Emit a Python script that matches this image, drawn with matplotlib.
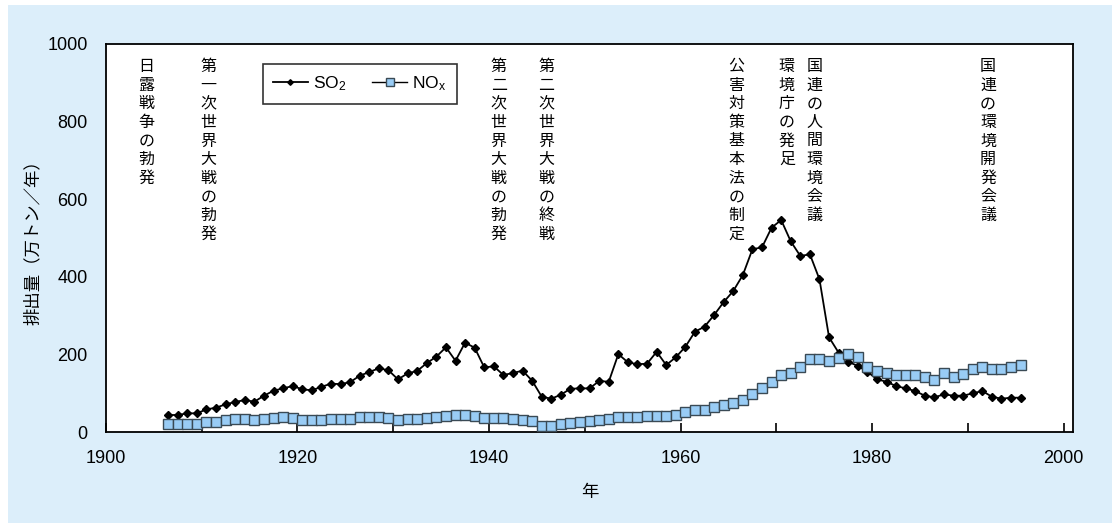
import numpy as np
import matplotlib
matplotlib.use("Agg")
import matplotlib.pyplot as plt
from matplotlib.patches import Rectangle
from matplotlib.ticker import MultipleLocator, FuncFormatter

plt.rcParams['font.family'] = ['Liberation Sans', 'Noto Sans CJK JP', 'DejaVu Sans']
plt.rcParams['mathtext.fontset'] = 'custom'
plt.rcParams['mathtext.rm'] = 'Liberation Sans'
plt.rcParams['mathtext.it'] = 'Liberation Sans'

# ---- data ----
years = np.arange(1906, 1996)
so2 = [44.5, 44.5, 48.8, 48.8, 59, 63.3, 72, 78, 83, 78.7,
       94, 107, 113, 119, 110.6, 108, 117, 125, 124, 129,
       145.6, 155, 164.6, 159.5, 136, 151.7, 157.7, 178, 194.5, 218.6,
       184, 230.5, 217.6, 167, 169.7, 147.4, 152.5, 158.5, 132.7, 91.6,
       86.4, 96.7, 112, 113, 113, 132, 130, 201, 180, 175,
       176.5, 207, 173, 193, 220, 258.8, 271.6, 301.7, 335, 363.4,
       404.6, 470.7, 475.8, 526.2, 546, 491.2, 453.5, 457.8, 393.5, 244.3,
       204.8, 181.6, 170.5, 156, 136.3, 130, 119, 113, 106, 94.2,
       90, 97.6, 94.2, 94.2, 100.3, 106.2, 91.6, 86.4, 89, 89]
nox = [21, 20.5, 20.5, 21, 26.5, 26.5, 31.6, 33.3, 33.3, 31.6,
       33.3, 36.8, 39.4, 37.6, 31.6, 30.8, 30.8, 34.2, 35.1, 34.2,
       38.5, 39.4, 38.5, 37.6, 32.5, 33.3, 33.3, 38, 40.2, 42.8,
       44.5, 44.5, 42.8, 37.6, 36.8, 35.9, 34.2, 31.6, 28.2, 16.2,
       16.2, 21.3, 23, 26.5, 28.2, 31.6, 35, 39.4, 39.4, 39.4,
       42.8, 42.8, 42.8, 44.5, 51.4, 57.4, 57.4, 64.3, 70.2, 76.1,
       83, 98.5, 113, 130, 147.4, 153.3, 168.7, 187.8, 188.5, 183.4,
       190.3, 202.2, 192.9, 168.7, 158.5, 151.7, 146.6, 148.1, 146.6, 142.2,
       133.7, 151.7, 143, 150, 162.8, 168, 162, 162, 167, 172.3]

events = ["日露戦争の勃発", "第一次世界大戦の勃発", "第二次世界大戦の勃発",
          "第二次世界大戦の終戦", "公害対策基本法の制定", "環境庁の発足",
          "国連の人間環境会議", "国連の環境開発会議"]
event_x = [1904.2, 1910.7, 1941.0, 1946.0, 1965.8, 1971.1, 1974.0, 1992.1]

y_ticks = [0, 200, 400, 600, 800, 1000]

# ---- figure ----
W, H = 1112, 523
fig = plt.figure(figsize=(W / 100, H / 100), dpi=100)
fig.patch.set_facecolor('white')
fig.patches.append(Rectangle((8 / W, 0), 1 - 8 / W, 1 - 5 / H, transform=fig.transFigure,
                             facecolor='#DCEEFA', edgecolor='none', zorder=-10))

ax = fig.add_axes([105.9 / W, 1 - 432.3 / H, 967.4 / W, 388.8 / H])
ax.set_facecolor('white')

x = years + 0.5
ax.plot(x, so2, color='black', lw=1.3, marker='D', markersize=3.8,
        markerfacecolor='black', markeredgecolor='black', label=r'SO$_2$', zorder=3)
ax.plot(x, nox, color='black', lw=1.0, marker='s', markersize=6.8,
        markerfacecolor='#99CCF5', markeredgecolor='#3A4A55', markeredgewidth=1.0,
        label=r'NO$_\mathrm{x}$', zorder=4)

ax.set_xlim(1900, 2001)
ax.set_ylim(0, 1000)
ax.xaxis.set_major_locator(MultipleLocator(10))
ax.xaxis.set_major_formatter(FuncFormatter(lambda v, p: f"{int(round(v))}" if int(round(v)) % 20 == 0 else ""))
ax.set_yticks(y_ticks)
ax.tick_params(axis='x', direction='in', length=6.5, width=1.2, pad=13, labelsize=13, colors='black')
ax.tick_params(axis='y', direction='in', length=0, width=1.2, pad=13, labelsize=13, colors='black')
for s in ax.spines.values():
    s.set_linewidth(1.3)
    s.set_color('black')

ax.set_ylabel("排出量（万トン／年）", fontsize=12.5)
ax.yaxis.set_label_coords(-0.067, 0.5)
ax.set_xlabel("年", fontsize=12.5)
ax.xaxis.set_label_coords(0.5, -0.135)

pitch = 13.4
for lbl, ex in zip(events, event_x):
    for i, ch in enumerate(lbl):
        ax.annotate(ch, xy=(ex, 0.9627), xycoords=('data', 'axes fraction'),
                    xytext=(0, -i * pitch), textcoords='offset points',
                    ha='center', va='top', fontsize=11.5,
                    family=['Noto Sans CJK JP'], zorder=5)

leg = ax.legend(loc='upper left', bbox_to_anchor=(0.162, 0.947), borderaxespad=0,
                ncol=2, frameon=True, fancybox=False, fontsize=12.5,
                handlelength=2.0, handletextpad=0.3, columnspacing=1.5,
                markerscale=0.75, borderpad=0.6)
leg.get_frame().set_edgecolor('black')
leg.get_frame().set_linewidth(1.2)

fig.savefig("out.png", dpi=100, facecolor=fig.get_facecolor())
